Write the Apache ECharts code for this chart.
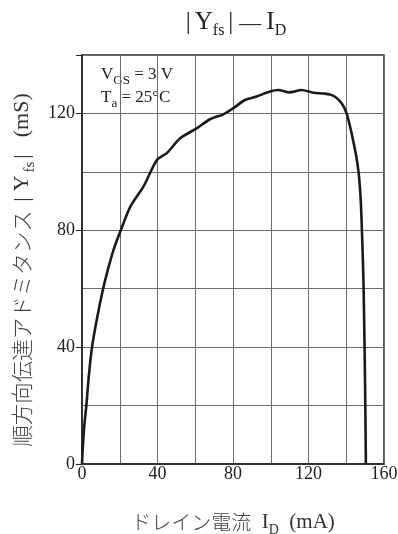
<!DOCTYPE html>
<html>
<head>
<meta charset="utf-8">
<script src="https://cdn.jsdelivr.net/npm/echarts@6/dist/echarts.min.js"></script>
<style>
html,body{margin:0;padding:0;background:#fff;}
#c{width:398px;height:534px;}
</style>
</head>
<body>
<div id="c"></div>
<script>
// Drain current I_D (mA)
const currentMA = [0, 0.2, 0.9, 1.5, 2.3, 3.6, 5.3, 8, 11.1, 13.5, 16.7, 20.6, 25.6, 32.6, 39.6, 44.9, 52, 60.8, 67.8, 74.9, 80.2, 86.3, 92.5, 99.6, 104, 110, 116.3, 122.5, 128, 131.4, 134, 136.5, 138.5, 140.2, 142.2, 143.9, 145.4, 146.5, 147.2, 147.7, 148.3, 148.8, 149.2, 149.7, 150.1, 150.4];
// Forward transfer admittance |Yfs| (mS)
const yfsMS = [0, 3, 10.5, 15, 20, 30, 40, 50, 59.7, 66, 73.3, 80.1, 88.1, 95, 104, 106.4, 111.5, 114.9, 118, 119.7, 121.8, 124.6, 125.8, 127.5, 128, 127.2, 128, 127.1, 126.8, 126.5, 125.7, 124.3, 122.5, 120, 115, 110, 105, 100, 95, 90, 80, 70, 60, 40, 20, 0];
const xTicks = [0, 40, 80, 120, 160];
const yTicks = [0, 40, 80, 120];

const SERIF = '"Liberation Serif", "Noto Sans CJK JP", serif';
const JP = '"Noto Sans CJK JP", sans-serif';
const chart = echarts.init(document.getElementById('c'), null, {renderer: 'canvas'});

const seriesData = currentMA.map((x, i) => [x, yfsMS[i]]);

chart.setOption({
  animation: false,
  backgroundColor: '#fff',
  grid: {left: 82, right: 14, top: 55, bottom: 70, outerBoundsMode: 'none', containLabel: false,
         show: true, borderColor: '#222', borderWidth: 1.5, backgroundColor: 'transparent'},
  xAxis: {
    type: 'value', min: 0, max: 160, interval: 20,
    axisLine: {show: true, lineStyle: {color: '#222', width: 1.5}},
    axisTick: {show: false},
    splitLine: {show: true, lineStyle: {color: '#6a6a6a', width: 1}},
    axisLabel: {
      margin: 1, color: '#222', fontFamily: SERIF, fontSize: 18,
      formatter: v => xTicks.includes(v) ? String(v) : ''
    },
    name: '{t|ドレイン電流}{n|  I}{s|D}{n|  (mA)}',
    nameLocation: 'middle', nameGap: 45,
    nameTextStyle: {
      color: '#333', fontFamily: SERIF, fontSize: 20,
      rich: {
        t: {fontFamily: JP, fontSize: 20, fontWeight: 300, color: '#444', lineHeight: 24, verticalAlign: 'bottom', padding: [0, 0, 1, 0]},
        n: {fontFamily: SERIF, fontSize: 21, color: '#333', lineHeight: 24, verticalAlign: 'bottom'},
        s: {fontFamily: SERIF, fontSize: 14, color: '#333', lineHeight: 14, verticalAlign: 'bottom', padding: [0, 0, -4, 0]}
      }
    }
  },
  yAxis: [{
    type: 'value', min: 0, max: 140, interval: 20,
    axisLine: {show: true, lineStyle: {color: '#222', width: 1.5}},
    axisTick: {show: false},
    splitLine: {show: true, lineStyle: {color: '#6a6a6a', width: 1}},
    axisLabel: {
      margin: 7, color: '#222', fontFamily: SERIF, fontSize: 18,
      formatter: v => yTicks.includes(v) ? String(v) : ''
    },
    name: '{t|順方向伝達アドミタンス}{n| |}{n|Y}{s|fs}{n||}{n|  (mS)}',
    nameLocation: 'middle', nameGap: 48, nameRotate: 90,
    nameTextStyle: {
      color: '#333', fontFamily: SERIF, fontSize: 21,
      padding: [0, 18, 0, 0],
      rich: {
        t: {fontFamily: JP, fontSize: 21.5, fontWeight: 300, color: '#444', lineHeight: 25, verticalAlign: 'bottom', padding: [0, 0, 1, 0]},
        n: {fontFamily: SERIF, fontSize: 22, color: '#333', lineHeight: 25, verticalAlign: 'bottom', padding: [0, 3, 0, 3]},
        s: {fontFamily: SERIF, fontSize: 15, color: '#333', lineHeight: 15, verticalAlign: 'bottom', padding: [0, 0, -4, 0]}
      }
    }
  }, {
    type: 'value', min: 0, max: 140, interval: 40, position: 'left',
    axisLine: {show: false},
    axisTick: {show: true, length: 6, lineStyle: {color: '#222', width: 1}},
    splitLine: {show: false},
    axisLabel: {show: false}
  }],
  graphic: [
    {
      type: 'text',
      x: 234, y: 21,
      style: {
        text: '{b||}{n|Y}{s|fs}{b||}{d|—}{n|I}{s|D}',
        x: 0, y: 0, align: 'center', verticalAlign: 'middle',
        rich: {
          n: {fontFamily: SERIF, fontSize: 25, fill: '#222', lineHeight: 28, verticalAlign: 'bottom'},
          b: {fontFamily: SERIF, fontSize: 25, fill: '#222', lineHeight: 28, verticalAlign: 'bottom', padding: [0, 4, 0, 4]},
          d: {fontFamily: SERIF, fontSize: 22, fill: '#222', lineHeight: 28, verticalAlign: 'bottom', padding: [0, 5, 0, 2]},
          s: {fontFamily: SERIF, fontSize: 16, fill: '#222', lineHeight: 16, verticalAlign: 'bottom', padding: [0, 0, -4, 0]}
        }
      }
    },
    {
      type: 'text', x: 101, y: 60,
      style: {
        text: '{n|V}{s|GS}{n| = 3 V}\n{n|T}{s|a}{n| = 25°C}',
        rich: {
          n: {fontFamily: SERIF, fontSize: 17, fill: '#222', lineHeight: 23, verticalAlign: 'bottom'},
          s: {fontFamily: SERIF, fontSize: 13, fill: '#222', lineHeight: 13, verticalAlign: 'bottom', padding: [0, 0, -4, 0]}
        }
      }
    }
  ],
  series: [{
    type: 'line', yAxisIndex: 0,
    data: seriesData,
    showSymbol: false, smooth: 0.25,
    lineStyle: {color: '#1a1a1a', width: 2.6},
    clip: true
  }]
});
</script>
</body>
</html>
